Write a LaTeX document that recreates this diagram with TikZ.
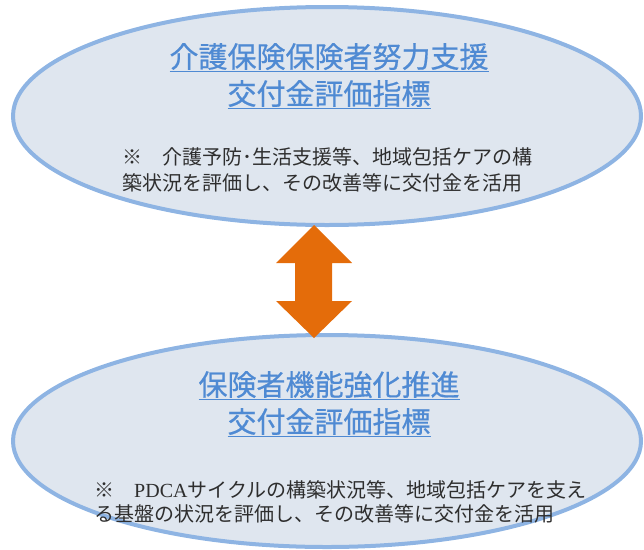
\documentclass[tikz,border=0pt]{standalone}
\usepackage{fontspec}
\setmainfont{Liberation Serif}
\newfontfamily\jp{Noto Sans CJK JP}
\newfontfamily\jpt[FakeBold=0.6]{Noto Sans CJK JP}
\definecolor{ovalfill}{HTML}{DFE6EF}
\definecolor{ovalline}{HTML}{8EB4E3}
\definecolor{titleblue}{HTML}{4F8AD3}
\definecolor{arroworange}{HTML}{E46C0A}
\definecolor{bodytext}{HTML}{2E2E2E}
\newcommand{\ul}[1]{\underline{#1}}
\begin{document}
\begin{tikzpicture}[x=1pt,y=-1pt,
  oval/.style={draw=ovalline,line width=4pt,fill=ovalfill},
  titletext/.style={font=\jpt\fontsize{29}{37}\selectfont,text=titleblue,align=center,inner sep=0pt},
  bodyblock/.style={font=\jp\fontsize{20}{26}\selectfont,text=bodytext,align=left,inner sep=0pt,anchor=west}]
\useasboundingbox (0,0) rectangle (644,549);
\draw[oval] (327,116) ellipse [x radius=314, y radius=109];
\draw[oval] (327,441) ellipse [x radius=314, y radius=106];
\coordinate (topc) at (327,116);
\coordinate (botc) at (327,441);
% double arrow
\fill[arroworange] (314,225) -- (352,263) -- (332,263) -- (332,301) -- (352,301)
  -- (314,338) -- (276,301) -- (295,301) -- (295,263) -- (276,263) -- cycle;
\node[titletext] (t1) at (329,76) {\ul{介護保険保険者努力支援}\\\ul{交付金評価指標}};
\node[bodyblock] (b1) at (122,170) {※　介護予防･生活支援等、地域包括ケアの構\\築状況を評価し、その改善等に交付金を活用};
\node[titletext] (t2) at (329,404) {\ul{保険者機能強化推進}\\\ul{交付金評価指標}};
\node[bodyblock,font=\jp\fontsize{20}{24.5}\selectfont] (b2) at (94,502) {※　{\rmfamily PDCA}サイクルの構築状況等、地域包括ケアを支え\\る基盤の状況を評価し、その改善等に交付金を活用};
\end{tikzpicture}
\end{document}
